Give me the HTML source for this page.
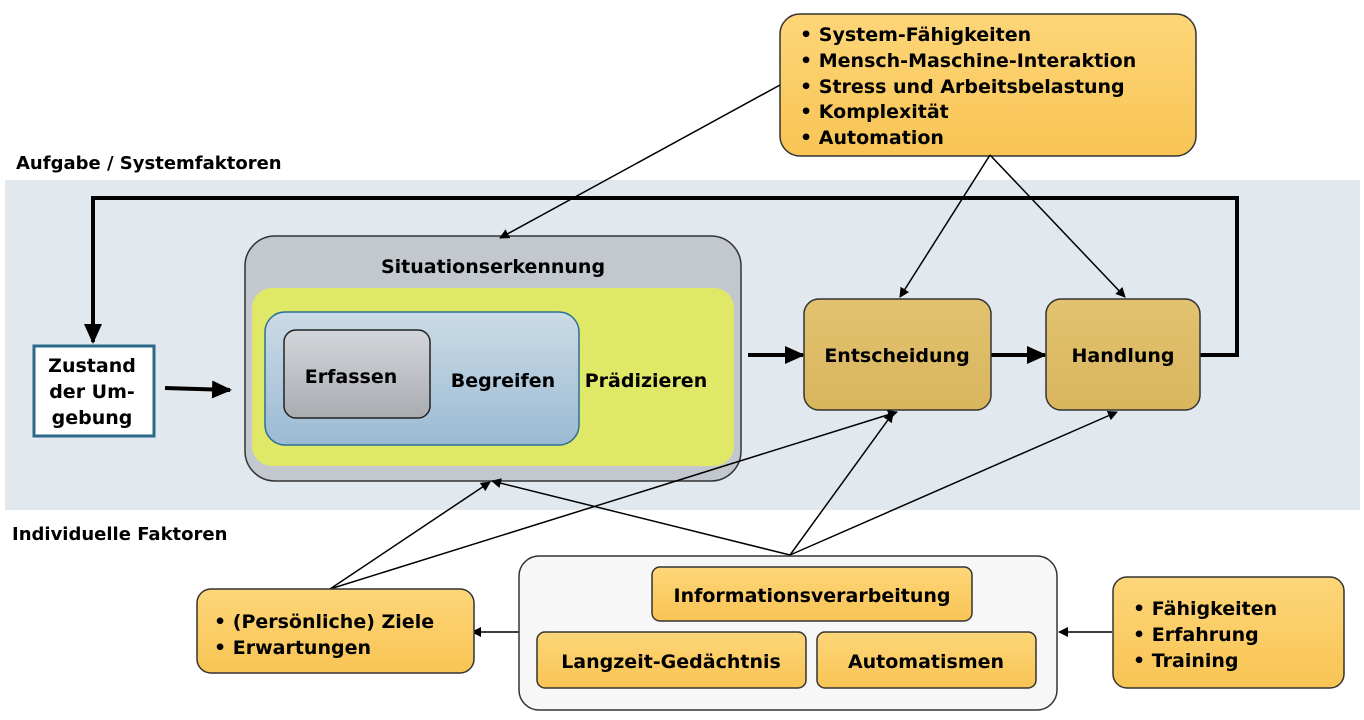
<!DOCTYPE html>
<html><head><meta charset="utf-8"><style>
html,body{margin:0;padding:0;background:#fff;}
svg{display:block;font-family:"DejaVu Sans","Liberation Sans",sans-serif;font-weight:bold;}
</style></head><body>
<svg width="1364" height="720" viewBox="0 0 1364 720" xmlns="http://www.w3.org/2000/svg">
<defs>
<marker id="a" markerWidth="10" markerHeight="10" refX="9" refY="5" orient="auto" markerUnits="userSpaceOnUse"><path d="M0,0 L10,5 L0,10 Z" fill="#000"/></marker>
<marker id="b" markerWidth="20" markerHeight="18" refX="18" refY="9" orient="auto" markerUnits="userSpaceOnUse"><path d="M0,0 L20,9 L0,18 Z" fill="#000"/></marker>
<linearGradient id="og" x1="0" y1="0" x2="0" y2="1"><stop offset="0" stop-color="#fdd679"/><stop offset="1" stop-color="#f8c454"/></linearGradient>
<linearGradient id="bg" x1="0" y1="0" x2="0" y2="1"><stop offset="0" stop-color="#cbdbe6"/><stop offset="1" stop-color="#9bbad3"/></linearGradient>
<linearGradient id="gg" x1="0" y1="0" x2="0" y2="1"><stop offset="0" stop-color="#d3d6da"/><stop offset="1" stop-color="#a9acb0"/></linearGradient>
<linearGradient id="tg" x1="0" y1="0" x2="0" y2="1"><stop offset="0" stop-color="#e2c270"/><stop offset="1" stop-color="#d9b55e"/></linearGradient>
</defs>
<rect x="5" y="180" width="1355" height="330" fill="#e1e8ee"/>
<text x="16" y="169" font-size="18">Aufgabe / Systemfaktoren</text>
<text x="12" y="540" font-size="18">Individuelle Faktoren</text>

<!-- top box -->
<rect x="780" y="14" width="416" height="142" rx="20" fill="url(#og)" stroke="#333" stroke-width="1.5"/>
<g font-size="19">
<text x="800" y="41">• System-Fähigkeiten</text>
<text x="800" y="67">• Mensch-Maschine-Interaktion</text>
<text x="800" y="93">• Stress und Arbeitsbelastung</text>
<text x="800" y="118">• Komplexität</text>
<text x="800" y="144">• Automation</text>
</g>

<!-- feedback loop -->
<polyline points="1200,355 1237,355 1237,198 93,198 93,342" fill="none" stroke="#000" stroke-width="4" marker-end="url(#b)"/>

<!-- Situation -->
<rect x="245" y="236" width="496" height="245" rx="30" fill="#c3c8ce" stroke="#333" stroke-width="1.5"/>
<text x="493" y="273" font-size="19" text-anchor="middle">Situationserkennung</text>
<rect x="252" y="288" width="482" height="178" rx="20" fill="#e0e868"/>
<rect x="265" y="312" width="314" height="133" rx="20" fill="url(#bg)" stroke="#2a6f96" stroke-width="1.5"/>
<rect x="284" y="330" width="146" height="88" rx="12" fill="url(#gg)" stroke="#222" stroke-width="1.5"/>
<text x="351" y="383" font-size="19" text-anchor="middle">Erfassen</text>
<text x="503" y="387" font-size="19" text-anchor="middle">Begreifen</text>
<text x="646" y="387" font-size="19" text-anchor="middle">Prädizieren</text>

<!-- Zustand -->
<rect x="34" y="346" width="120" height="90" fill="#fff" stroke="#2a6a88" stroke-width="3"/>
<g font-size="19" text-anchor="middle">
<text x="92" y="372">Zustand</text>
<text x="92" y="398">der Um-</text>
<text x="92" y="424">gebung</text>
</g>
<line x1="165" y1="388" x2="230" y2="390" stroke="#000" stroke-width="4" marker-end="url(#b)"/>
<line x1="748" y1="355" x2="803" y2="355" stroke="#000" stroke-width="4" marker-end="url(#b)"/>
<line x1="991" y1="355" x2="1045" y2="355" stroke="#000" stroke-width="4" marker-end="url(#b)"/>

<rect x="804" y="299" width="187" height="111" rx="15" fill="url(#tg)" stroke="#333" stroke-width="1.5"/>
<text x="897" y="362" font-size="19" text-anchor="middle">Entscheidung</text>
<rect x="1046" y="299" width="154" height="111" rx="15" fill="url(#tg)" stroke="#333" stroke-width="1.5"/>
<text x="1123" y="362" font-size="19" text-anchor="middle">Handlung</text>

<!-- thin arrows -->
<g stroke="#000" stroke-width="1.5" fill="none">
<line x1="780" y1="85" x2="500" y2="238" marker-end="url(#a)"/>
<line x1="990" y1="155" x2="900" y2="297" marker-end="url(#a)"/>
<line x1="990" y1="155" x2="1125" y2="297" marker-end="url(#a)"/>
<line x1="790" y1="555" x2="492" y2="481" marker-end="url(#a)"/>
<line x1="790" y1="555" x2="893" y2="413" marker-end="url(#a)"/>
<line x1="790" y1="555" x2="1117" y2="412" marker-end="url(#a)"/>
<line x1="330" y1="589" x2="490" y2="482" marker-end="url(#a)"/>
<line x1="330" y1="589" x2="897" y2="412" marker-end="url(#a)"/>
<line x1="519" y1="632" x2="472" y2="632" marker-end="url(#a)"/>
<line x1="1112" y1="632" x2="1059" y2="632" marker-end="url(#a)"/>
</g>

<!-- bottom -->
<rect x="197" y="589" width="277" height="84" rx="14" fill="url(#og)" stroke="#333" stroke-width="1.5"/>
<text x="214" y="628" font-size="19">• (Persönliche) Ziele</text>
<text x="214" y="654" font-size="19">• Erwartungen</text>

<rect x="519" y="556" width="538" height="154" rx="20" fill="#f7f7f7" stroke="#333" stroke-width="1.5"/>
<rect x="652" y="567" width="320" height="54" rx="8" fill="url(#og)" stroke="#333" stroke-width="1.5"/>
<text x="812" y="602" font-size="19" text-anchor="middle">Informationsverarbeitung</text>
<rect x="537" y="632" width="269" height="56" rx="8" fill="url(#og)" stroke="#333" stroke-width="1.5"/>
<text x="671" y="668" font-size="19" text-anchor="middle">Langzeit-Gedächtnis</text>
<rect x="817" y="632" width="219" height="56" rx="8" fill="url(#og)" stroke="#333" stroke-width="1.5"/>
<text x="926" y="668" font-size="19" text-anchor="middle">Automatismen</text>

<rect x="1113" y="577" width="231" height="111" rx="14" fill="url(#og)" stroke="#333" stroke-width="1.5"/>
<text x="1133" y="615" font-size="19">• Fähigkeiten</text>
<text x="1133" y="641" font-size="19">• Erfahrung</text>
<text x="1133" y="667" font-size="19">• Training</text>
</svg>
</body></html>
